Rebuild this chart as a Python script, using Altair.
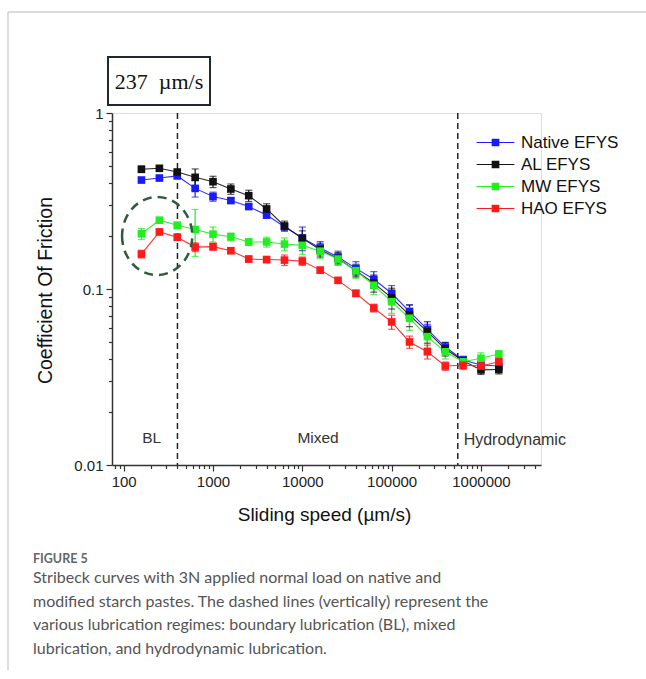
import altair as alt
import pandas as pd

# ---------------- data ----------------
series_names = ["Native EFYS", "AL EFYS", "MW EFYS", "HAO EFYS"]
series_colors = ["#1a1aff", "#111111", "#22ee22", "#ff1a1a"]

speed = [158, 251, 398, 631, 1000, 1585, 2512, 3981, 6310, 10000, 15849,
         25119, 39811, 63096, 100000, 158489, 251189, 398107, 630957,
         1000000, 1584893]

native = [0.416, 0.427, 0.439, 0.373, 0.335, 0.318, 0.294, 0.263, 0.226, 0.195,
          0.171, 0.152, 0.131, 0.1135, 0.0946, 0.0743, 0.059, 0.0468, 0.0395,
          0.037, 0.0365]
al = [0.479, 0.485, 0.462, 0.431, 0.407, 0.37, 0.339, 0.285, 0.228, 0.194,
      0.167, 0.149, 0.127, 0.108, 0.089, 0.0711, 0.0572, 0.0456, 0.0391,
      0.0347, 0.0349]
mw = [0.206, 0.246, 0.230, 0.218, 0.205, 0.198, 0.185, 0.185, 0.180, 0.177,
      0.164, 0.148, 0.127, 0.105, 0.0847, 0.0682, 0.0536, 0.044, 0.0386,
      0.0404, 0.0427]
hao = [0.158, 0.211, 0.197, 0.173, 0.174, 0.165, 0.148, 0.147, 0.146, 0.144,
       0.128, 0.112, 0.0945, 0.078, 0.065, 0.050, 0.044, 0.0365, 0.0369,
       0.0365, 0.0386]

native_err = [0.01, 0.01, 0.01, 0.04, 0.02, 0.01, 0.01, 0.01, 0.01, 0.03, 0.015,
              0.012, 0.012, 0.012, 0.01, 0.007, 0.004, 0.003, 0.002, 0.002, 0.002]
al_err = [0.02, 0.01, 0.01, 0.05, 0.03, 0.025, 0.025, 0.02, 0.015, 0.02, 0.015,
          0.012, 0.01, 0.012, 0.012, 0.01, 0.008, 0.004, 0.002, 0.002, 0.002]
mw_err = [0.015, 0.008, 0.01, 0.065, 0.02, 0.01, 0.008, 0.012, 0.015, 0.02, 0.015,
          0.01, 0.012, 0.012, 0.012, 0.01, 0.007, 0.004, 0.002, 0.003, 0.002]
hao_err = [0.008, 0.008, 0.008, 0.01, 0.008, 0.006, 0.006, 0.006, 0.01, 0.008, 0.005,
           0.004, 0.004, 0.004, 0.006, 0.004, 0.004, 0.002, 0.002, 0.002, 0.002]

regime_bounds = [400, 550000]
regime_labels = ["BL", "Mixed", "Hydrodynamic"]
regime_label_x = [206, 15000, 640000]
regime_label_y = [0.0142, 0.0142, 0.0139]
regime_label_align = ["center", "center", "left"]

highlight_x = [237]
highlight_y = [0.2]

box_text = "237\u00a0 µm/s"
figure_label = "FIGURE 5"
caption_lines = [
    "Stribeck curves with 3N applied normal load on native and",
    "modified starch pastes. The dashed lines (vertically) represent the",
    "various lubrication regimes: boundary lubrication (BL), mixed",
    "lubrication, and hydrodynamic lubrication.",
]

x_ticks = [m * 10 ** e for e in range(1, 7) for m in range(1, 10)]
x_ticks = [v for v in x_ticks if 74 <= v <= 4700000]
y_ticks = [m * 10 ** e for e in (-2, -1) for m in range(1, 10)] + [1]

# ---------------- tables ----------------
rows = []
for name, col, vals, errs in zip(series_names, series_colors, [native, al, mw, hao],
                                 [native_err, al_err, mw_err, hao_err]):
    for s, v, e in zip(speed, vals, errs):
        rows.append({"series": name, "col": col, "order": series_names.index(name),
                     "speed": s, "cof": v, "lo": v - e, "hi": v + e})
df = pd.DataFrame(rows)

W, H = 429, 352
FONT = "Liberation Sans"

xscale = alt.Scale(type="log", domain=[74, 4700000], nice=False)
yscale = alt.Scale(type="log", domain=[0.01, 1], nice=False)

x_major = "indexof([100,1000,10000,100000,1000000], datum.value) >= 0"
y_major = "indexof([0.01,0.1,1], datum.value) >= 0"

x_axis = alt.Axis(values=x_ticks, labelExpr=f"{x_major} ? '' + datum.value : ''",
                  tickSize={"condition": {"test": x_major, "value": 6}, "value": 3.5},
                  grid=False, title="Sliding speed (µm/s)", titleFontSize=19,
                  titleFont=FONT, titleFontWeight="normal", titleColor="#111",
                  titleY=49, titleX=212, titleBaseline="middle",
                  labelFontSize=15, labelFont=FONT, labelColor="#222",
                  labelPadding=3, labelOverlap=False, labelFlush=False,
                  domainColor="#333", domainWidth=1.5, tickColor="#333", tickWidth=1.2)
y_axis = alt.Axis(values=y_ticks, labelExpr=f"{y_major} ? '' + datum.value : ''",
                  tickSize={"condition": {"test": y_major, "value": 6}, "value": 3.5},
                  grid=False, title="Coefficient Of Friction", titleFontSize=19.5,
                  titleFont=FONT, titleFontWeight="normal", titleColor="#111",
                  titleX=-67, titleY=177, titleBaseline="middle", titleAngle=-90,
                  labelFontSize=15, labelFont=FONT, labelColor="#222",
                  labelPadding=3, labelOverlap=False, labelFlush=False,
                  domainColor="#333", domainWidth=1.5, tickColor="#333", tickWidth=1.2)

X = alt.X("speed:Q", scale=xscale, axis=x_axis)
Y = alt.Y("cof:Q", scale=yscale, axis=y_axis)

stroke_enc = alt.Stroke("col:N", scale=None)

legend_symbol = ("M-2.7,-0.08H2.7V0.08H-2.7Z"
                 "M-0.55,-0.55H0.55V0.55H-0.55Z")

base = alt.Chart(df)

lines = base.mark_line(strokeWidth=1.1, opacity=0.9).encode(
    x=X, y=Y, stroke=stroke_enc, detail="series:N", order="speed:Q")

err_rules = base.mark_rule(strokeWidth=1.2).encode(
    x="speed:Q", y="lo:Q", y2="hi:Q", stroke=stroke_enc)
cap_lo = base.mark_point(shape="stroke", size=49, strokeWidth=1.2).encode(
    x="speed:Q", y="lo:Q", stroke=stroke_enc)
cap_hi = base.mark_point(shape="stroke", size=49, strokeWidth=1.2).encode(
    x="speed:Q", y="hi:Q", stroke=stroke_enc)

squares = base.mark_point(shape="square", filled=True, size=58, opacity=1).encode(
    x="speed:Q", y="cof:Q",
    color=alt.Color("series:N",
                    scale=alt.Scale(domain=series_names, range=series_colors),
                    legend=alt.Legend(orient="none", legendX=375, legendY=21,
                                      title=None, symbolType=legend_symbol,
                                      symbolSize=196, symbolStrokeWidth=0,
                                      symbolOpacity=1,
                                      labelFontSize=17, labelFont=FONT,
                                      labelColor="#111", labelOffset=17,
                                      rowPadding=4, padding=0)),
    order="order:Q")

bounds = alt.Chart(pd.DataFrame({"b": regime_bounds})).mark_rule(
    color="#222", strokeWidth=1.5, strokeDash=[6, 4]).encode(x="b:Q")

reg_df = pd.DataFrame({"t": regime_labels, "x": regime_label_x,
                       "y": regime_label_y, "a": regime_label_align})
reg_center = alt.Chart(reg_df[reg_df.a == "center"]).mark_text(
    font=FONT, fontSize=15.5, color="#333", align="center", baseline="middle").encode(
    x="x:Q", y="y:Q", text="t:N")
reg_left = alt.Chart(reg_df[reg_df.a == "left"]).mark_text(
    font=FONT, fontSize=16, color="#333", align="left", baseline="middle").encode(
    x="x:Q", y="y:Q", text="t:N")

ellipse = alt.Chart(pd.DataFrame({"x": highlight_x, "y": highlight_y})).mark_point(
    shape="M-0.9,0A0.9,1 0 1,0 0.9,0A0.9,1 0 1,0 -0.9,0Z",
    size=6084, filled=False, stroke="#2d5b3c", strokeWidth=2.5,
    strokeDash=[9, 6], opacity=1).encode(x="x:Q", y="y:Q")

one = pd.DataFrame({"a": [0]})
box = alt.Chart(one).mark_rect(fill="white", stroke="#1c2833", strokeWidth=2).encode(
    x=alt.value(-4), x2=alt.value(98), y=alt.value(-56), y2=alt.value(-8))
box_label = alt.Chart(one).mark_text(
    text=box_text, font="Liberation Serif", fontSize=22, color="#111",
    align="center", baseline="middle").encode(x=alt.value(47), y=alt.value(-31))

frame_top = alt.Chart(one).mark_rule(color="#d0d0d0", strokeWidth=1.5).encode(
    x=alt.value(-104), x2=alt.value(534), y=alt.value(-101))
frame_left = alt.Chart(one).mark_rule(color="#d0d0d0", strokeWidth=1.5).encode(
    x=alt.value(-104), y=alt.value(-101), y2=alt.value(557))

fig_label = alt.Chart(one).mark_text(
    text=figure_label, font="Lato", fontSize=12.5, fontWeight="bold",
    color="#666", align="left", baseline="alphabetic").encode(
    x=alt.value(-79), y=alt.value(449.5))
caption = alt.Chart(one).mark_text(
    text=caption_lines, font="Lato", fontSize=16, fontWeight="normal", color="#555",
    align="left", baseline="alphabetic", lineHeight=23.7).encode(
    x=alt.value(-79), y=alt.value(470))

chart = alt.layer(
    frame_top, frame_left, bounds, reg_center, reg_left, lines, err_rules,
    cap_lo, cap_hi, squares, ellipse, box, box_label, fig_label, caption
).resolve_scale(x="shared", y="shared").properties(
    width=W, height=H,
    autosize=alt.AutoSizeParams(type="none"),
    padding={"left": 112, "top": 113, "right": 105, "bottom": 214},
).configure_view(stroke=None).configure(background="white")

chart.save("out.html", embed_options={"renderer": "svg", "actions": False})
